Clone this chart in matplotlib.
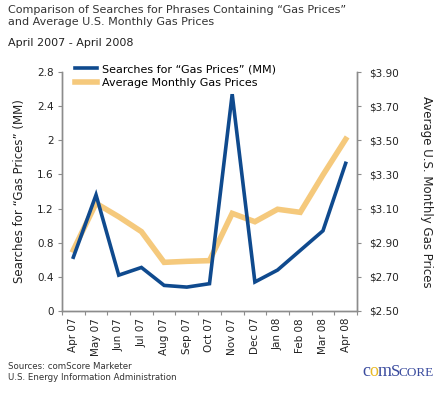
import matplotlib
matplotlib.use("Agg")
import matplotlib.pyplot as plt
import numpy as np

months = ["Apr 07", "May 07", "Jun 07", "Jul 07", "Aug 07", "Sep 07", "Oct 07",
          "Nov 07", "Dec 07", "Jan 08", "Feb 08", "Mar 08", "Apr 08"]
searches = [0.63, 1.36, 0.42, 0.51, 0.30, 0.28, 0.32, 2.54, 0.34, 0.48, 0.71, 0.94, 1.73]
gas_prices = [2.857, 3.131, 3.052, 2.965, 2.785, 2.791, 2.795, 3.072, 3.023, 3.096, 3.078, 3.297, 3.506]
left_ticks = [0, 0.4, 0.8, 1.2, 1.6, 2, 2.4, 2.8]
left_labels = ["0", "0.4", "0.8", "1.2", "1.6", "2", "2.4", "2.8"]
right_ticks = [2.50, 2.70, 2.90, 3.10, 3.30, 3.50, 3.70, 3.90]

plt.rcParams['font.family'] = ['DejaVu Sans']
fig = plt.figure(figsize=(4.46, 3.93), dpi=100)
ax = fig.add_axes([62/446, 1-311/393, (357-62)/446, (311-72)/393])
ax2 = ax.twinx()

x = np.arange(len(months))
blue = "#0f4a8e"
orange = "#f5c97c"
grey = "#8c8c8c"
l2, = ax2.plot(x, gas_prices, color=orange, lw=4.0, solid_joinstyle='miter', zorder=1)
l1, = ax.plot(x, searches, color=blue, lw=2.6, solid_joinstyle='miter', zorder=3)
ax.set_zorder(ax2.get_zorder() + 1)
ax.patch.set_visible(False)

ax.set_xlim(-0.5, len(months) - 0.5)
ax.set_ylim(0, 2.8)
ax2.set_ylim(2.5, 3.9)
ax.set_yticks(left_ticks)
ax.set_yticklabels(left_labels)
ax2.set_yticks(right_ticks)
ax2.set_yticklabels(["${:.2f}".format(v) for v in right_ticks])
ax.set_xticks(x)
ax.set_xticklabels(months, rotation=90)
ax.set_xticks(np.arange(-0.5, len(months)), minor=True)

for a in (ax, ax2):
    a.spines['top'].set_visible(False)
    for s in ('left', 'right', 'bottom'):
        a.spines[s].set_color(grey)
        a.spines[s].set_linewidth(1.0)
    a.tick_params(axis='both', which='both', colors=grey, labelcolor='#222222',
                  labelsize=7.5, length=3, width=0.8, pad=3)
ax2.tick_params(axis='y', pad=6)
ax.tick_params(axis='x', which='major', length=0, pad=5)
ax.tick_params(axis='x', which='minor', length=3)

ax.set_ylabel("Searches for \u201cGas Prices\u201d (MM)", fontsize=8.5, color='#222222', labelpad=8)
ax2.set_ylabel("Average U.S. Monthly Gas Prices", fontsize=8.5, color='#222222',
               rotation=-90, labelpad=24)

leg = ax.legend([l1, l2], ["Searches for \u201cGas Prices\u201d (MM)", "Average Monthly Gas Prices"],
                loc='upper left', bbox_to_anchor=(0.02, 1.06), frameon=False,
                fontsize=8, handlelength=2.0, handletextpad=0.5, labelspacing=0.35,
                borderaxespad=0.2)

fig.text(8/446, 1-5/393, "Comparison of Searches for Phrases Containing \u201cGas Prices\u201d\nand Average U.S. Monthly Gas Prices",
         fontsize=8, color='#333333', va='top', ha='left', linespacing=1.25)
fig.text(8/446, 1-43/393, "April 2007 - April 2008", fontsize=8, color='#222222', va='center', ha='left')
fig.text(8/446, 1-372/393, "Sources: comScore Marketer\nU.S. Energy Information Administration",
         fontsize=6.2, color='#333333', va='center', ha='left', linespacing=1.2)

fig.canvas.draw()
r = fig.canvas.get_renderer()
parts = [("c", '#3a4b9e', 13), ("o", '#e8b923', 13), ("m", '#3a4b9e', 13), ("S", '#3a4b9e', 12), ("CORE", '#3a4b9e', 9.5)]
xpos = 362
for s, c, fs in parts:
    tt = fig.text(xpos/446, 1-376/393, s, fontsize=fs, color=c, family='Liberation Serif', va='baseline')
    bb = tt.get_window_extent(renderer=r)
    xpos += bb.width * 0.92

fig.savefig("out.png", dpi=100)
